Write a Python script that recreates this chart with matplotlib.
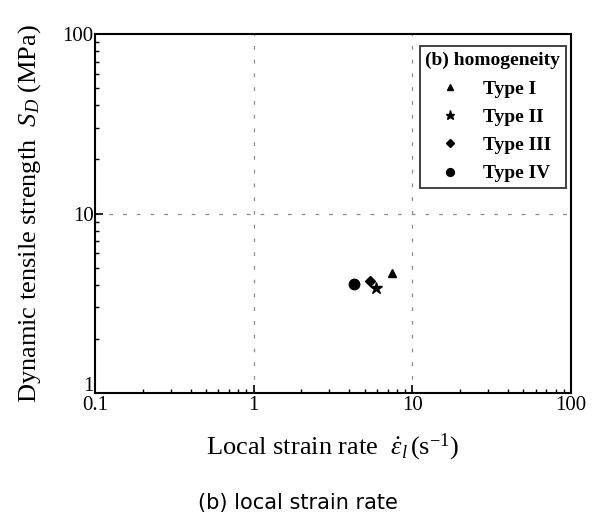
import matplotlib
matplotlib.use("Agg")
import matplotlib.pyplot as plt
import matplotlib.transforms as mtransforms
from matplotlib.ticker import LogLocator, NullFormatter, FixedLocator, FixedFormatter

# Values
types = ["Type I", "Type II", "Type III", "Type IV"]
strain_rate = [7.4, 5.9, 5.4, 4.3]     # s^-1
strength = [4.66, 3.85, 4.21, 4.05]    # MPa
markers = ["^", "*", "D", "o"]
marker_sizes = [6, 9, 5.5, 7.5]

xticks = [0.1, 1, 10, 100]
yticks = [1, 10, 100]

plt.rcParams["font.family"] = ["Liberation Serif", "DejaVu Serif"]
plt.rcParams["mathtext.fontset"] = "custom"
plt.rcParams["mathtext.rm"] = "Liberation Serif"
plt.rcParams["mathtext.it"] = "Liberation Serif:italic"

fig = plt.figure(figsize=(5.95, 5.2), dpi=100)
ax = fig.add_axes([0.1597, 0.2442, 0.80, 0.6904])

for t, x, y, m, s in zip(types, strain_rate, strength, markers, marker_sizes):
    ax.plot([x], [y], linestyle="none", marker=m, markersize=s, color="black", label=t)

ax.set_xscale("log")
ax.set_yscale("log")
ax.set_xlim(0.1, 100)
ax.set_ylim(1, 100)

ax.xaxis.set_major_locator(FixedLocator(xticks))
ax.xaxis.set_major_formatter(FixedFormatter([str(v) if v < 1 else str(int(v)) for v in xticks]))
ax.yaxis.set_major_locator(FixedLocator(yticks))
ax.yaxis.set_major_formatter(FixedFormatter([str(v) for v in yticks]))
ax.xaxis.set_minor_locator(LogLocator(base=10, subs=range(2, 10)))
ax.yaxis.set_minor_locator(LogLocator(base=10, subs=range(2, 10)))
ax.xaxis.set_minor_formatter(NullFormatter())
ax.yaxis.set_minor_formatter(NullFormatter())

ax.tick_params(which="both", direction="in", top=False, right=False, labelsize=15)
ax.tick_params(which="major", length=6, width=1.2)
ax.tick_params(axis="x", which="major", pad=2)
ax.tick_params(axis="y", which="major", pad=1)
ax.tick_params(which="minor", length=3, width=1.0)
for sp in ax.spines.values():
    sp.set_linewidth(1.5)

# lift the "1" label so it clears "0.1"
lbl = ax.get_yticklabels()[0]
lbl.set_transform(lbl.get_transform() + mtransforms.ScaledTranslation(0, 0.09, fig.dpi_scale_trans))

# faint dashed grid at the decades
for v in [1, 10]:
    ax.axvline(v, color="0.55", lw=0.9, linestyle=(0, (3, 8)), zorder=0)
ax.axhline(10, color="0.55", lw=0.9, linestyle=(0, (3, 8)), zorder=0)

ax.set_xlabel(r"Local strain rate  $\dot{\varepsilon}_{\it l}\,$(s$^{-1}$)", fontsize=19, labelpad=12)
ax.set_ylabel(r"Dynamic tensile strength  $S_{\it D}$ (MPa)", fontsize=19, labelpad=14)

leg = ax.legend(title="(b) homogeneity", loc="upper right", fontsize=14, title_fontsize=14,
                frameon=True, fancybox=False, edgecolor="black", handletextpad=0.9,
                handlelength=1.6, borderaxespad=0.25, borderpad=0.3, labelspacing=0.55,
                markerscale=0.75, bbox_to_anchor=(1.0, 0.98))
leg.get_frame().set_linewidth(1.3)
for txt in leg.get_texts():
    txt.set_fontweight("bold")
leg.get_title().set_fontweight("bold")

fig.text(0.5, 0.033, "(b) local strain rate", ha="center", va="center", fontsize=15,
         family=["DejaVu Sans"])

fig.savefig("out.png", dpi=100)
